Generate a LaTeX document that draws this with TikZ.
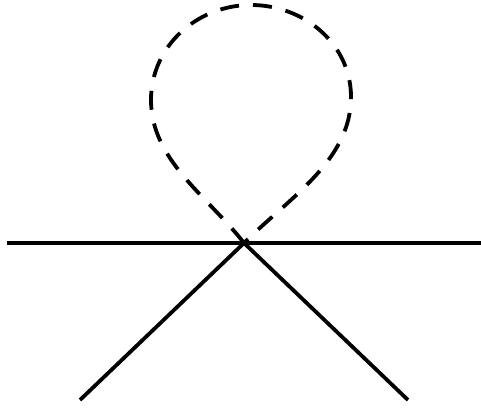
\documentclass[tikz,border=0pt]{standalone}
\begin{document}
\begin{tikzpicture}[x=1pt,y=1pt,
  leg/.style={line width=3.8pt},
  loopline/.style={line width=3.8pt,dash pattern=on 19pt off 14pt}]
\useasboundingbox (0,0) rectangle (481,409);
\coordinate (v) at (244,166);
\coordinate (a) at (7,166);
\coordinate (b) at (481,166);
\coordinate (c) at (80,9);
\coordinate (d) at (408,9);
\coordinate (l) at (151,309);
\coordinate (t) at (251,404);
\coordinate (r) at (351,312);
\draw[leg] (a) -- (b);
\draw[leg] (c) -- (v) -- (d);
\draw[loopline] (v) to[out=128,in=-90,looseness=0.9] (l) to[out=90,in=180] (t) to[out=0,in=90] (r) to[out=-90,in=45,looseness=0.9] (v);
\end{tikzpicture}
\end{document}
